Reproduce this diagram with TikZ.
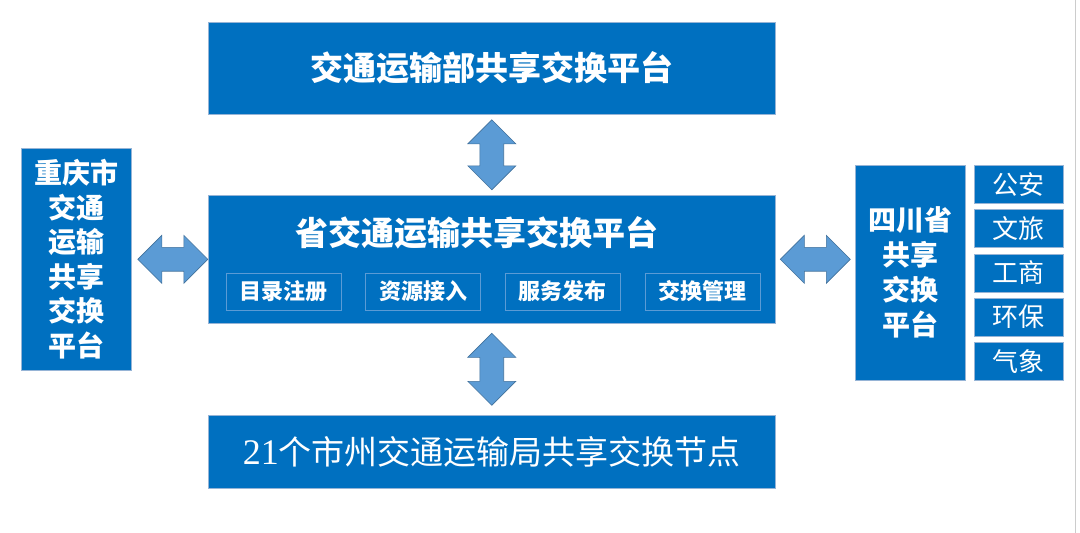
\documentclass[tikz,border=0pt]{standalone}
\usepackage{fontspec}
\newfontfamily\cjk{Noto Sans CJK SC}
\newfontfamily\numfont{Liberation Serif}
\usetikzlibrary{shapes.arrows,calc}

\definecolor{boxblue}{RGB}{0,112,192}
\definecolor{boxedge}{RGB}{150,180,214}
\definecolor{arrowblue}{RGB}{91,155,213}
\definecolor{arrowedge}{RGB}{65,113,156}

\tikzset{
  platform/.style={draw=boxedge, line width=0.6pt, fill=boxblue, text=white,
    inner sep=0pt, anchor=north west, align=center},
  module/.style={draw=arrowblue, line width=0.6pt, text=white, inner sep=0pt,
    minimum width=115pt, minimum height=37pt, font=\cjk\bfseries\fontsize{22}{24}\selectfont},
  agency/.style={draw=boxedge, line width=0.6pt, fill=boxblue, text=white, inner sep=0pt,
    minimum width=89pt, minimum height=38pt, font=\cjk\fontsize{26}{28}\selectfont},
  link/.style={double arrow, draw=arrowedge, line width=0.6pt, fill=arrowblue,
    inner xsep=0pt, inner ysep=11.5pt, minimum width=48pt, double arrow head extend=12pt}
}

\begin{document}
\begin{tikzpicture}[x=1pt, y=-1pt]
\useasboundingbox (0,0) rectangle (1080,533);

\def \step {139.7}

% platforms
\node[platform, minimum width=567pt, minimum height=92pt,
  font=\cjk\bfseries\fontsize{33}{36}\selectfont] (ministry) at (208,22) {交通运输部共享交换平台};
\node[platform, minimum width=567pt, minimum height=128pt] (province) at (208,195) {};
\node[text=white, font=\cjk\bfseries\fontsize{33}{36}\selectfont] (title) at (477,233) {省交通运输共享交换平台};
\node[platform, minimum width=567pt, minimum height=73pt,
  font=\cjk\fontsize{33}{36}\selectfont] (nodes) at (208,415) {{\numfont\fontsize{36}{36}\selectfont 21}个市州交通运输局共享交换节点};
\node[platform, minimum width=110pt, minimum height=222pt,
  font=\cjk\bfseries\fontsize{28}{34.5}\selectfont] (chongqing) at (21,148) {重庆市\\交通\\运输\\共享\\交换\\平台};
\node[platform, minimum width=110pt, minimum height=215pt,
  font=\cjk\bfseries\fontsize{28}{35}\selectfont] (sichuan) at (855,165) {四川省\\共享\\交换\\平台};

% modules of the provincial platform
\foreach \name [count=\i] in {目录注册,资源接入,服务发布,交换管理}
{
  \node[module] (m\i) at ({283.5 + \step*(\i - 1)}, 291.5) {\name};
}

% other departments
\foreach \name [count=\i] in {公安,文旅,工商,环保,气象}
{
  \node[agency, anchor=north west] (d\i) at (974, {165 + 44.25*(\i - 1)}) {\name};
}

% links
\node[link, rotate=90, minimum height=70pt] (up) at ($(ministry.south)!0.5!(province.north)$) {};
\node[link, rotate=90, minimum height=72pt] (down) at ($(province.south)!0.5!(nodes.north)$) {};
\node[link, minimum height=70pt, xshift=3pt] (left) at ($(chongqing.east)!0.5!(province.west)$) {};
\node[link, minimum height=70pt] (right) at ($(province.east)!0.5!(sichuan.west |- province.east)$) {};

\draw[black!20, line width=0.8pt] (1075,0) -- (1075,533);
\end{tikzpicture}
\end{document}
